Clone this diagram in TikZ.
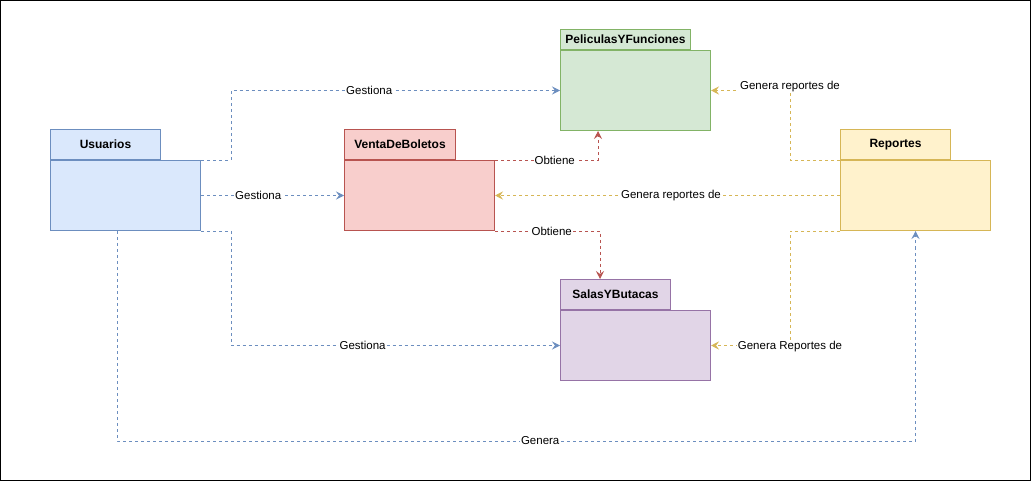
\documentclass[tikz,border=0pt]{standalone}
\usepackage{fontspec}
\setmainfont{Liberation Sans}
\usetikzlibrary{arrows.meta,calc}
\definecolor{bluF}{HTML}{DAE8FC}\definecolor{bluS}{HTML}{6C8EBF}
\definecolor{redF}{HTML}{F8CECC}\definecolor{redS}{HTML}{B85450}
\definecolor{grnF}{HTML}{D5E8D4}\definecolor{grnS}{HTML}{82B366}
\definecolor{ylwF}{HTML}{FFF2CC}\definecolor{ylwS}{HTML}{D6B656}
\definecolor{purF}{HTML}{E1D5E7}\definecolor{purS}{HTML}{9673A6}
\begin{document}
\begin{tikzpicture}[x=1pt,y=-1pt,
  pkgbody/.style={draw,line width=1pt,minimum width=150pt,minimum height=70pt,anchor=north west,inner sep=0pt},
  pkgtab/.style={draw,line width=1pt,minimum width=110pt,minimum height=30pt,anchor=south west,inner sep=0pt,font=\fontsize{12}{14}\selectfont\bfseries},
  conn/.style={line width=0.9pt,dash pattern=on 3pt off 3pt,-{Stealth[length=8pt,width=8pt,inset=3pt]}},
  lbl/.style={fill=white,inner sep=0.8pt,font=\fontsize{11.5}{13}\selectfont,text=black}]
\useasboundingbox (0,0) rectangle (1031,481);
\draw[line width=1pt] (0.5,0.5) rectangle (1030.5,480.5);
% Usuarios
\node[pkgbody,fill=bluF,draw=bluS] (uB) at (50,160) {};
\node[pkgtab,fill=bluF,draw=bluS] (uT) at (uB.north west) {Usuarios};
% VentaDeBoletos
\node[pkgbody,fill=redF,draw=redS] (vB) at (344,160) {};
\node[pkgtab,fill=redF,draw=redS,minimum width=111pt] (vT) at (vB.north west) {VentaDeBoletos};
% PeliculasYFunciones
\node[pkgbody,fill=grnF,draw=grnS,minimum height=80pt] (pB) at (560,50) {};
\node[pkgtab,fill=grnF,draw=grnS,minimum width=130pt,minimum height=20pt] (pT) at (pB.north west) {PeliculasYFunciones};
% Reportes
\node[pkgbody,fill=ylwF,draw=ylwS] (rB) at (840,160) {};
\node[pkgtab,fill=ylwF,draw=ylwS] (rT) at (rB.north west) {Reportes};
% SalasYButacas
\node[pkgbody,fill=purF,draw=purS] (sB) at (560,310) {};
\node[pkgtab,fill=purF,draw=purS] (sT) at (sB.north west) {SalasYButacas};
% Usuarios connectors
\draw[conn,bluS] (uB.north east) -- ++(30,0) |- node[lbl,pos=0.71]{Gestiona} (pB.west);
\draw[conn,bluS] (uB.east) -- node[lbl,pos=0.40]{Gestiona} (vB.west);
\draw[conn,bluS] (uB.south east) -- ++(30,0) |- node[lbl,pos=0.70]{Gestiona} (sB.west);
\draw[conn,bluS] ($(uB.south west)+(67,0)$) -- ++(0,210) -| node[lbl,pos=0.265]{Genera} (rB.south);
% Venta connectors
\draw[conn,redS] (vB.north east) -| node[lbl,pos=0.29]{Obtiene} ($(pB.south west)+(38,0)$);
\draw[conn,redS] (vB.south east) -| node[lbl,pos=0.27]{Obtiene} ($(sT.north west)+(40,0)$);
% Reportes connectors
\draw[conn,ylwS] (rB.north west) -- ++(-50,0) |- node[lbl,pos=0.5,yshift=4pt]{Genera reportes de} (pB.east);
\draw[conn,ylwS] (rB.west) -- node[lbl,pos=0.49]{Genera reportes de} (vB.east);
\draw[conn,ylwS] (rB.south west) -- ++(-50,0) |- node[lbl,pos=0.5,yshift=-1pt]{Genera Reportes de} (sB.east);
\end{tikzpicture}
\end{document}
